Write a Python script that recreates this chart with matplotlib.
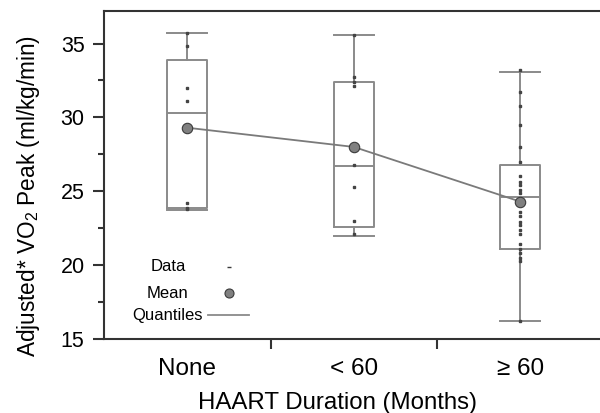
import matplotlib

matplotlib.use("Agg")
import matplotlib.pyplot as plt
from matplotlib.ticker import FixedLocator, MultipleLocator

plt.rcParams["font.family"] = ["Liberation Sans", "DejaVu Sans"]

groups = ["None", "< 60", "≥ 60"]

# raw observations per group
none_vals = [35.7, 34.8, 32.0, 31.1, 24.2, 23.9, 23.8]
lt60_vals = [35.6, 32.7, 32.4, 32.1, 26.8, 25.3, 23.0, 22.1]
ge60_vals = [33.2, 31.7, 30.8, 29.5, 28.0, 27.0, 26.0, 25.6, 25.4, 25.1, 24.9,
             23.6, 23.3, 22.9, 22.7, 22.4, 22.1, 21.4, 21.1, 20.8, 20.5, 20.3, 16.2]

# quantile summaries (min, q1, median, q3, max) and means
whislo = [23.7, 22.0, 16.2]
q1 = [23.85, 22.6, 21.1]
med = [30.3, 26.7, 24.6]
q3 = [33.9, 32.4, 26.8]
whishi = [35.7, 35.6, 33.1]
means = [29.3, 28.0, 24.3]

fig = plt.figure(figsize=(6.0, 4.13), dpi=100)
ax = fig.add_axes([104 / 600, 74 / 413, 499.5 / 600, 328 / 413])

box_col = "#8a8a8a"
stats = []
for i in range(len(groups)):
    stats.append({"whislo": whislo[i], "q1": q1[i], "med": med[i],
                  "q3": q3[i], "whishi": whishi[i], "fliers": []})
ax.bxp(stats, positions=range(len(groups)), widths=0.24, showfliers=False,
       boxprops=dict(color=box_col, linewidth=1.4),
       whiskerprops=dict(color=box_col, linewidth=1.4),
       capprops=dict(color=box_col, linewidth=1.4),
       medianprops=dict(color=box_col, linewidth=1.4),
       capwidths=0.24, manage_ticks=False)

for i, vals in enumerate([none_vals, lt60_vals, ge60_vals]):
    ax.plot([i] * len(vals), vals, ls="none", marker="s", markersize=1.7,
            color="#444444", zorder=4)

ax.plot(range(len(groups)), means, color="#7a7a7a", linewidth=1.3, zorder=3)
ax.plot(range(len(groups)), means, ls="none", marker="o", markersize=7.5,
        markerfacecolor="#808080", markeredgecolor="#3a3a3a",
        markeredgewidth=0.8, zorder=5)

ax.set_xlim(-0.5, 2.5)
ax.set_ylim(15, 37.2)

ax.spines["right"].set_visible(False)
for s in ["left", "bottom", "top"]:
    ax.spines[s].set_color("#333333")
    ax.spines[s].set_linewidth(1.5)

ax.set_xticks(range(len(groups)))
ax.set_xticklabels(groups, fontsize=17.5)
ax.xaxis.set_minor_locator(FixedLocator([0.5, 1.5]))
ax.tick_params(axis="x", which="major", length=0, pad=14)
ax.tick_params(axis="x", which="minor", length=7, width=1.5, color="#333333")

ax.set_yticks([15, 20, 25, 30, 35])
ax.yaxis.set_minor_locator(MultipleLocator(2.5))
ax.tick_params(axis="y", which="major", length=8, width=1.5,
               color="#333333", labelsize=15.5, pad=6)
ax.tick_params(axis="y", which="minor", length=4, width=1.5, color="#333333")

ax.set_xlabel("HAART Duration (Months)", fontsize=17.3)
ax.xaxis.set_label_coords(0.468, -0.163)
ax.set_ylabel(r"Adjusted* VO$_\mathregular{2}$ Peak (ml/kg/min)", fontsize=16.3)
ax.yaxis.set_label_coords(-0.124, 0.436)

# legend drawn by hand: label on the left, symbol on the right
tr = ax.transAxes
ax.text(0.128, 0.22, "Data", transform=tr, ha="center", va="center", fontsize=12)
ax.text(0.128, 0.14, "Mean", transform=tr, ha="center", va="center", fontsize=12)
ax.text(0.128, 0.073, "Quantiles", transform=tr, ha="center", va="center",
        fontsize=12)
ax.plot([0.25], [0.22], transform=tr, marker="_", markersize=3,
        color="#3a3a3a", ls="none")
ax.plot([0.25], [0.14], transform=tr, marker="o", markersize=6.5,
        markerfacecolor="#808080", markeredgecolor="#3a3a3a",
        markeredgewidth=0.8, ls="none")
ax.plot([0.208, 0.29], [0.073, 0.073], transform=tr, color=box_col,
        linewidth=1.3)

fig.savefig("out.png", dpi=100)
plt.close(fig)
